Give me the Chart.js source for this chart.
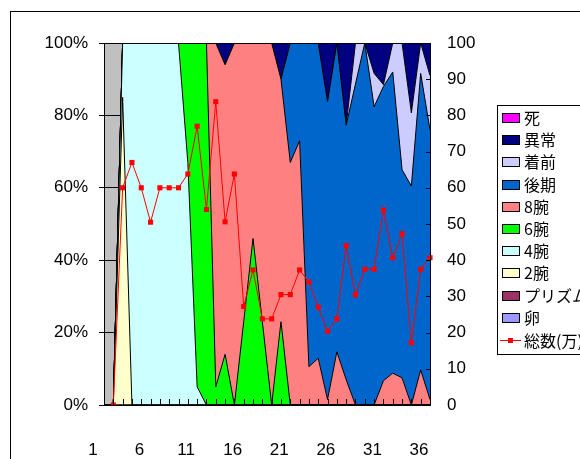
<!DOCTYPE html>
<html>
<head>
<meta charset="utf-8">
<script src="https://cdn.jsdelivr.net/npm/chart.js@4/dist/chart.umd.min.js"></script>
<style>
  html, body { margin: 0; padding: 0; background: #fff; }
  canvas { display: block; }
</style>
</head>
<body>
<canvas id="stage" width="580" height="459"></canvas>
<script>
// categories (day number)
const days = ['1','2','3','4','5','6','7','8','9','10','11','12','13','14','15','16','17','18',
              '19','20','21','22','23','24','25','26','27','28','29','30','31','32','33','34','35','36'];

// composition in % of each stage, per day (bottom of stack first)
const egg      = [0,0,0,0,0,0,0,0,0,0, 0,0,0,0,0,0,0,0,0,0, 0,0,0,0,0,0,0,0,0,0, 0,0,0,0,0,0];
const prism    = [0,0,0,0,0,0,0,0,0,0, 0,0,0,0,0,0,0,0,0,0, 0,0,0,0,0,0,0,0,0,0, 0,0,0,0,0,0];
const arm2     = [0,0,85,0,0,0,0,0,0,0, 0,0,0,0,0,0,0,0,0,0, 0,0,0,0,0,0,0,0,0,0, 0,0,0,0,0,0];
const arm4     = [0,0,15,100,100,100,100,100,100,67, 5,0,0,0,0,0,0,0,0,0, 0,0,0,0,0,0,0,0,0,0, 0,0,0,0,0,0];
const arm6     = [0,0,0,0,0,0,0,0,0,33, 95,100,5,14,0,23,46,23,0,23, 0,0,0,0,0,0,0,0,0,0, 0,0,0,0,0,0];
const arm8     = [0,0,0,0,0,0,0,0,0,0, 0,0,95,80,100,77,54,77,100,67,
                  67,73,10.6,12.9,1.5,14.7,7,0,0,0, 6.7,8.8,7.5,0,9.7,1.5];
const late     = [0,0,0,0,0,0,0,0,0,0, 0,0,0,0,0,0,0,0,0,0,
                  33,27,89.4,87.1,82.3,85.3,70.3,88.7,100,82.4, 81.3,83.2,57.5,60.5,81.9,74.5];
const settle   = [0,0,0,0,0,0,0,0,0,0, 0,0,0,0,0,0,0,0,0,0,
                  0,0,0,0,0,0,0,11.3,0,9.2, 0.5,8,35,20.2,8.4,15];
const abnormal = [0,0,0,0,0,0,0,0,0,0, 0,0,0,6,0,0,0,0,0,10,
                  0,0,0,0,16.2,0,22.7,0,0,8.4, 11.5,0,0,19.3,0,9];
const dead     = [0,0,0,0,0,0,0,0,0,0, 0,0,0,0,0,0,0,0,0,0, 0,0,0,0,0,0,0,0,0,0, 0,0,0,0,0,0];

// total count (10,000s), right axis
const total = [null,0,60,67,60,50.5,60,60,60,63.8, 77,54,83.8,50.6,63.8,27.2,37.3,23.8,23.8,30.5,
               30.5,37.3,34,27,20.4,23.8,44,30.4,37.5,37.5, 53.9,40.7,47.3,17.2,37.5,40.7];

const leftTicks = [0, 20, 40, 60, 80, 100];

const stages = [
  { label: '卵',      data: egg,      color: '#9999FF' },
  { label: 'プリズム', data: prism,    color: '#993366' },
  { label: '2腕',     data: arm2,     color: '#FFFFCC' },
  { label: '4腕',     data: arm4,     color: '#CCFFFF' },
  { label: '6腕',     data: arm6,     color: '#00FF00' },
  { label: '8腕',     data: arm8,     color: '#FF8080' },
  { label: '後期',    data: late,     color: '#0066CC' },
  { label: '着前',    data: settle,   color: '#CCCCFF' },
  { label: '異常',    data: abnormal, color: '#000080' },
  { label: '死',      data: dead,     color: '#FF00FF' }
];

const numFont = { family: '"Liberation Sans", Arial, sans-serif', size: 17 };
const jpFont = '16px "Noto Sans CJK JP", sans-serif';

// white page, outer frame and grey plot area
const backdrop = {
  id: 'backdrop',
  beforeDraw(chart) {
    const { ctx, chartArea: a } = chart;
    ctx.save();
    ctx.fillStyle = '#fff';
    ctx.fillRect(0, 0, chart.width, chart.height);
    ctx.strokeStyle = '#000';
    ctx.lineWidth = 1;
    ctx.strokeRect(10.5, 11.5, 700, 600);
    ctx.fillStyle = '#C0C0C0';
    ctx.fillRect(a.left, a.top, a.right - a.left, a.bottom - a.top);
    ctx.restore();
  }
};

// inside tick marks on the category axis and the right axis, plus plot frame
const frame = {
  id: 'frame',
  afterDatasetsDraw(chart) {
    const { ctx, chartArea: a, scales } = chart;
    ctx.save();
    ctx.strokeStyle = '#000';
    ctx.lineWidth = 1;
    ctx.beginPath();
    days.forEach((d, i) => {
      const x = Math.round(scales.x.getPixelForValue(i)) + 0.5;
      ctx.moveTo(x, a.bottom);
      ctx.lineTo(x, a.bottom - 6);
    });
    scales.y1.ticks.forEach(t => {
      const y = Math.round(scales.y1.getPixelForValue(t.value)) + 0.5;
      ctx.moveTo(a.right, y);
      ctx.lineTo(a.right - 4, y);
    });
    ctx.stroke();
    ctx.strokeRect(Math.round(a.left) + 0.5, Math.round(a.top) + 0.5,
                   Math.round(a.right - a.left), Math.round(a.bottom - a.top));
    ctx.restore();
  }
};

// boxed legend on the right (stack order reversed, like Excel)
const boxLegend = {
  id: 'boxLegend',
  afterDraw(chart) {
    const ctx = chart.ctx;
    ctx.save();
    ctx.strokeStyle = '#000';
    ctx.lineWidth = 1;
    ctx.fillStyle = '#fff';
    ctx.fillRect(497.5, 105.5, 120, 249);
    ctx.strokeRect(497.5, 105.5, 120, 249);
    ctx.font = jpFont;
    ctx.textBaseline = 'middle';
    const sets = chart.data.datasets;
    const areas = sets.filter(s => s.fill !== false).slice().reverse();
    const line = sets.find(s => s.fill === false);
    const step = 22.2;
    areas.forEach((s, i) => {
      const y = Math.round(118 + i * step);
      ctx.fillStyle = s.backgroundColor;
      ctx.fillRect(502.5, y - 4.5, 17, 9);
      ctx.strokeRect(502.5, y - 4.5, 17, 9);
      ctx.fillStyle = '#000';
      ctx.fillText(s.label, 524, y);
    });
    const y = Math.round(118 + areas.length * step) + 0.5;
    ctx.strokeStyle = line.borderColor;
    ctx.beginPath();
    ctx.moveTo(500, y);
    ctx.lineTo(521, y);
    ctx.stroke();
    ctx.fillStyle = line.borderColor;
    ctx.fillRect(508, y - 2.5, 5, 5);
    ctx.fillStyle = '#000';
    ctx.fillText(line.label, 524, y);
    ctx.restore();
  }
};

const datasets = stages.map((s, i) => ({
  label: s.label,
  data: s.data,
  backgroundColor: s.color,
  borderColor: '#000',
  borderWidth: 1,
  fill: i === 0 ? 'origin' : '-1',
  pointRadius: 0,
  pointHoverRadius: 0,
  tension: 0,
  yAxisID: 'y',
  order: 2
}));

datasets.push({
  label: '総数(万)',
  data: total,
  fill: false,
  borderColor: '#FF0000',
  backgroundColor: '#FF0000',
  borderWidth: 1,
  pointStyle: 'rect',
  pointRadius: 3.6,
  pointBorderWidth: 0,
  pointBackgroundColor: '#FF0000',
  tension: 0,
  yAxisID: 'y1',
  order: 1
});

new Chart(document.getElementById('stage'), {
  type: 'line',
  data: { labels: days, datasets: datasets },
  options: {
    responsive: false,
    animation: false,
    devicePixelRatio: 1,
    layout: { padding: { top: 43, left: 0, right: 0, bottom: 0 } },
    plugins: {
      legend: { display: false },
      tooltip: { enabled: false }
    },
    scales: {
      x: {
        offset: false,
        grid: { display: false, drawTicks: false },
        border: { color: '#000' },
        ticks: {
          autoSkip: false,
          maxRotation: 0,
          padding: 35,
          labelOffset: -11,
          color: '#000',
          font: numFont,
          callback(v, i) { return i % 5 === 0 ? this.getLabelForValue(v) : ''; }
        },
        afterFit(s) { s.height = 54; }
      },
      y: {
        stacked: true,
        min: 0,
        max: 100,
        afterBuildTicks(s) { s.ticks = leftTicks.map(v => ({ value: v })); },
        grid: { color: '#000', lineWidth: 1, tickLength: 5 },
        border: { color: '#000' },
        ticks: { padding: 11, color: '#000', font: numFont, callback: v => v + '%' },
        afterFit(s) { s.width = 104; }
      },
      y1: {
        position: 'right',
        min: 0,
        max: 100,
        grid: { drawOnChartArea: false, drawTicks: false },
        border: { color: '#000' },
        ticks: { stepSize: 10, padding: 17, color: '#000', font: numFont },
        afterFit(s) { s.width = 150; }
      }
    }
  },
  plugins: [backdrop, frame, boxLegend]
});
</script>
</body>
</html>
